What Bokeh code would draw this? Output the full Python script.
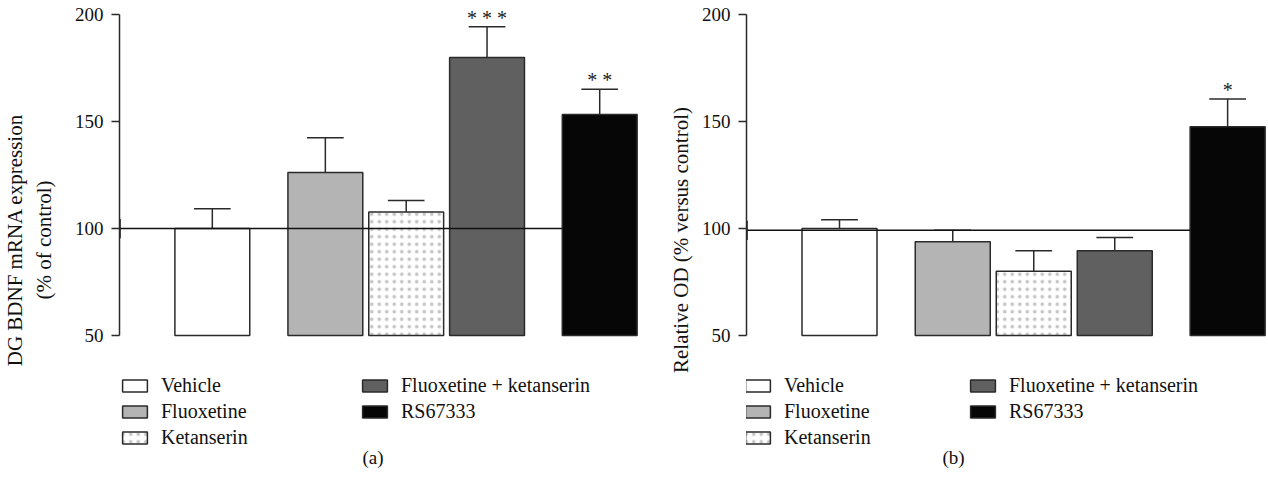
from bokeh.plotting import figure
from bokeh.models import ColumnDataSource, Range1d, Legend, LegendItem, Label, FixedTicker
from bokeh.layouts import row
from bokeh.embed import file_html
from bokeh.resources import INLINE
from bokeh.core.properties import value

# ---------------- data ----------------
groups = ["Vehicle", "Fluoxetine", "Ketanserin", "Fluoxetine + ketanserin", "RS67333"]
positions = [0.0, 1.51, 2.59, 3.67, 5.175]

a_means = [100.0, 126.2, 107.8, 180.0, 153.4]
a_upper = [109.3, 142.5, 113.2, 194.4, 165.2]
a_stars = ["", "", "", "* * *", "* *"]
a_ref = 100.0

b_means = [100.0, 93.8, 80.0, 89.7, 147.6]
b_upper = [104.2, 99.2, 89.6, 95.8, 160.6]
b_stars = ["", "", "", "", "*"]
b_ref = 99.2

a_ylabel = "DG BDNF mRNA expression\n(% of control)"
b_ylabel = "Relative OD (% versus control)"
y_ticks = [50, 100, 150, 200]

# ---------------- style / layout ----------------
fills = ["#ffffff", "#b4b4b4", "#ffffff", "#5f605f", "#060606"]
hatches = [" ", " ", "dot", " ", " "]
FONT = "Liberation Serif"
EDGE = "#2a2a2a"
PX = 326.0 / 152.5          # pixels per y unit
Y_TOP = 202.5
Y_BOTTOM = 50 - 135.0 / PX  # frame extends below bars to host the legend
X_START, X_END = -1.24, 5.72


def panel(width, border_left, border_right, means, uppers, stars, ref,
          ylabel, tag, leg_dx, col2_dx, tag_px, label_standoff):
    p = figure(width=width, height=478,
               x_range=Range1d(X_START, X_END), y_range=Range1d(Y_BOTTOM, Y_TOP),
               output_backend="svg", toolbar_location=None,
               x_axis_location=None,
               min_border_left=border_left, min_border_right=border_right,
               min_border_top=9, min_border_bottom=8)
    p.outline_line_color = None
    p.grid.grid_line_color = None
    p.background_fill_color = "white"
    p.border_fill_color = "white"

    ax = p.yaxis[0]
    ax.ticker = FixedTicker(ticks=y_ticks)
    ax.bounds = (50, 200)
    ax.major_tick_out = 8
    ax.major_tick_in = 0
    ax.minor_tick_out = 0
    ax.minor_tick_in = 0
    ax.axis_line_width = 1.5
    ax.axis_line_color = EDGE
    ax.major_tick_line_width = 1.5
    ax.major_tick_line_color = EDGE
    ax.major_label_text_font = FONT
    ax.major_label_text_font_size = "19px"
    ax.major_label_text_color = "#111111"
    ax.major_label_standoff = 8
    ax.axis_label = ylabel
    ax.axis_label_text_font = FONT
    ax.axis_label_text_font_size = "21px"
    ax.axis_label_text_font_style = "normal"
    ax.axis_label_text_color = "#111111"
    ax.axis_label_standoff = label_standoff

    # error bars (upper only)
    err = ColumnDataSource(dict(x=positions, lo=means, hi=uppers,
                                xl=[x - 0.245 for x in positions],
                                xr=[x + 0.245 for x in positions]))
    p.segment(x0="x", y0="lo", x1="x", y1="hi", source=err,
              line_color=EDGE, line_width=1.5)
    p.segment(x0="xl", y0="hi", x1="xr", y1="hi", source=err,
              line_color=EDGE, line_width=1.5)

    rends = []
    for i, g in enumerate(groups):
        src = ColumnDataSource(dict(x=[positions[i]], top=[means[i]]))
        r = p.vbar(x="x", top="top", bottom=50, width=1.0, source=src,
                   fill_color=fills[i], line_color=EDGE, line_width=1.5,
                   hatch_pattern=hatches[i], hatch_color="#c6c6c6",
                   hatch_scale=7.5, hatch_weight=0.6)
        rends.append(r)

    # reference line at control level
    x1 = positions[-1] - 0.5
    p.segment(x0=[X_START], y0=[ref], x1=[x1], y1=[ref], line_color="#111111", line_width=1.5)
    p.segment(x0=[X_START], y0=[ref - 4.5], x1=[X_START], y1=[ref + 4.5],
              line_color="#111111", line_width=2.5)

    # significance stars
    st = ColumnDataSource(dict(x=positions, y=uppers, t=stars))
    p.text(x="x", y="y", text="t", source=st, text_align="center",
           text_baseline="middle", y_offset=-9,
           text_font=value(FONT), text_font_size="20px", text_color="#222222")

    common = dict(border_line_color=None, background_fill_alpha=0, padding=0, margin=0,
                  glyph_width=31, glyph_height=15, label_standoff=11,
                  label_text_font=FONT, label_text_font_size="20px",
                  label_text_color="#111111", label_height=20, spacing=3)
    leg1 = Legend(items=[LegendItem(label=groups[i], renderers=[rends[i]]) for i in range(3)],
                  location=(leg_dx, 21), **common)
    leg2 = Legend(items=[LegendItem(label=groups[i], renderers=[rends[i]]) for i in range(3, 5)],
                  location=(leg_dx + col2_dx, 47), **common)
    p.add_layout(leg1)
    p.add_layout(leg2)

    p.add_layout(Label(x=X_START + tag_px / 75.0, y=50 - 122.0 / PX, text=tag,
                       text_align="center", text_baseline="middle",
                       text_font=FONT, text_font_size="19px", text_color="#111111"))
    return p


pa = panel(648, 118, 8, a_means, a_upper, a_stars, a_ref, a_ylabel, "(a)", 0, 240, 254, 16)
pb = panel(620, 98, 0, b_means, b_upper, b_stars, b_ref, b_ylabel, "(b)", -4, 225, 207, 6)

layout = row(pa, pb)
open("out.html", "w").write(file_html(layout, INLINE))
